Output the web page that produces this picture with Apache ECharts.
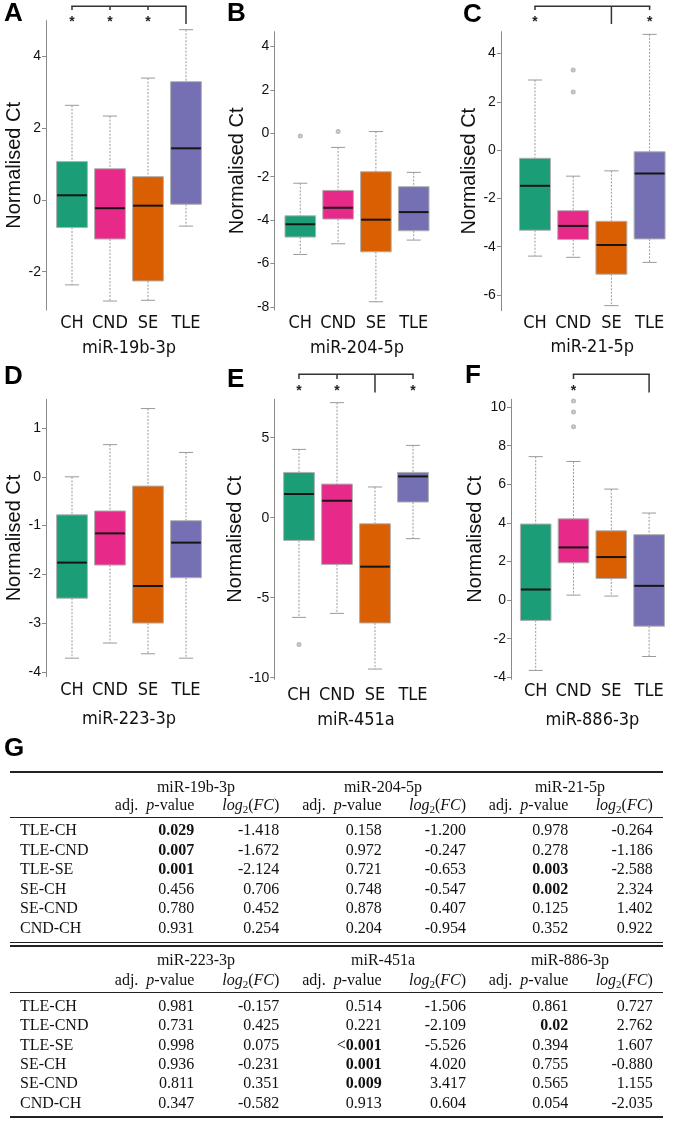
<!DOCTYPE html>
<html><head><meta charset="utf-8">
<script src="https://cdn.jsdelivr.net/npm/echarts@6/dist/echarts.min.js"></script>
<style>
html,body{margin:0;padding:0;background:#fff;}
#chart{position:absolute;left:0;top:0;width:675px;height:1127px;}
#tbl{position:absolute;left:0;top:0;width:675px;height:1127px;pointer-events:none;font-family:'Liberation Serif','Times New Roman',serif;font-size:16px;color:#111;}
.t{position:absolute;white-space:nowrap;line-height:20px;height:20px;}
.rule{position:absolute;left:10px;width:653px;background:#222;}
b{font-weight:bold;}
</style></head><body>
<div id="chart"></div><div id="tbl"></div>
<script>
// ---------------- DATA ----------------
const groups = ['CH', 'CND', 'SE', 'TLE'];
const groupColors = ['#1B9E77', '#E7298A', '#D95F02', '#7570B3'];
const mirnas = ['miR-19b-3p', 'miR-204-5p', 'miR-21-5p', 'miR-223-3p', 'miR-451a', 'miR-886-3p'];
const panelLetters = ['A', 'B', 'C', 'D', 'E', 'F'];

// box stats per group: [lower whisker, Q1, median, Q3, upper whisker]
const box19b = [[-2.37, -0.77, 0.13, 1.07, 2.64], [-2.82, -1.09, -0.23, 0.87, 2.34], [-2.80, -2.26, -0.16, 0.65, 3.40], [-0.73, -0.12, 1.44, 3.30, 4.75]];
const box204 = [[-5.58, -4.78, -4.19, -3.80, -2.30], [-5.09, -3.95, -3.43, -2.63, -0.65], [-7.76, -5.46, -3.98, -1.77, 0.08], [-4.92, -4.49, -3.63, -2.46, -1.80]];
const box21 = [[-4.39, -3.32, -1.48, -0.34, 2.90], [-4.44, -3.70, -3.14, -2.51, -1.08], [-6.44, -5.14, -3.93, -2.95, -0.86], [-4.65, -3.68, -0.97, -0.07, 4.79]];
const box223 = [[-3.72, -2.49, -1.76, -0.78, 0.00], [-3.41, -1.81, -1.16, -0.70, 0.66], [-3.63, -3.00, -2.24, -0.19, 1.40], [-3.72, -2.07, -1.35, -0.90, 0.50]];
const box451 = [[-6.23, -1.42, 1.48, 2.83, 4.27], [-5.98, -2.92, 1.06, 2.10, 7.19], [-9.46, -6.58, -3.06, -0.38, 1.92], [-1.31, 0.98, 2.58, 2.83, 4.52]];
const box886 = [[-3.64, -1.05, 0.55, 3.94, 7.43], [0.26, 1.93, 2.73, 4.21, 7.18], [0.21, 1.12, 2.23, 3.59, 5.75], [-2.92, -1.35, 0.74, 3.39, 4.51]];
const boxStats = [box19b, box204, box21, box223, box451, box886];

// outliers: [group index, value]
const out19b = [];
const out204 = [[0, -0.12], [1, 0.08]];
const out21 = [[1, 3.31], [1, 2.40]];
const out223 = [];
const out451 = [[0, -7.92]];
const out886 = [[1, 10.31], [1, 9.74], [1, 8.98]];
const outliers = [out19b, out204, out21, out223, out451, out886];

// y tick labels
const ticks19b = [-2, 0, 2, 4];
const ticks204 = [-8, -6, -4, -2, 0, 2, 4];
const ticks21 = [-6, -4, -2, 0, 2, 4];
const ticks223 = [-4, -3, -2, -1, 0, 1];
const ticks451 = [-10, -5, 0, 5];
const ticks886 = [-4, -2, 0, 2, 4, 6, 8, 10];
const yTicks = [ticks19b, ticks204, ticks21, ticks223, ticks451, ticks886];

// significance brackets (group indices)
const sigBrackets = [
  { panel: 0, span: [0, 3], stars: [0, 1, 2], drop: 3 },
  { panel: 2, span: [0, 3], stars: [0, 3], drop: 2 },
  { panel: 4, span: [0, 3], stars: [0, 1, 3], drop: 2 },
  { panel: 5, span: [1, 3], stars: [1], drop: 3 }
];

// table G
const comparisons = ['TLE-CH', 'TLE-CND', 'TLE-SE', 'SE-CH', 'SE-CND', 'CND-CH'];
const p19b = ['0.029', '0.007', '0.001', '0.456', '0.780', '0.931'];
const fc19b = ['-1.418', '-1.672', '-2.124', '0.706', '0.452', '0.254'];
const p204 = ['0.158', '0.972', '0.721', '0.748', '0.878', '0.204'];
const fc204 = ['-1.200', '-0.247', '-0.653', '-0.547', '0.407', '-0.954'];
const p21 = ['0.978', '0.278', '0.003', '0.002', '0.125', '0.352'];
const fc21 = ['-0.264', '-1.186', '-2.588', '2.324', '1.402', '0.922'];
const p223 = ['0.981', '0.731', '0.998', '0.936', '0.811', '0.347'];
const fc223 = ['-0.157', '0.425', '0.075', '-0.231', '0.351', '-0.582'];
const p451 = ['0.514', '0.221', '<0.001', '0.001', '0.009', '0.913'];
const fc451 = ['-1.506', '-2.109', '-5.526', '4.020', '3.417', '0.604'];
const p886 = ['0.861', '0.02', '0.394', '0.755', '0.565', '0.054'];
const fc886 = ['0.727', '2.762', '1.607', '-0.880', '1.155', '-2.035'];
const pvals = [p19b, p204, p21, p223, p451, p886];
const fcs = [fc19b, fc204, fc21, fc223, fc451, fc886];

// ---------------- LAYOUT ----------------
const layout = [
  { left: 53, width: 152, top: 20.7, height: 289.3, min: -3.07, max: 5.0, off: 7, lm: 4, ng: 29, yng: 22 },
  { left: 281.4, width: 151.2, top: 31.7, height: 278.3, min: -8.14, max: 4.68, off: 7, lm: 4, ng: 29, yng: 27 },
  { left: 515.9, width: 152.8, top: 31.7, height: 279, min: -6.65, max: 4.9, off: 15, lm: 4, ng: 28, yng: 16 },
  { left: 53, width: 152, top: 399.3, height: 277.4, min: -4.1, max: 1.59, off: 7, lm: 4.5, ng: 34, yng: 22 },
  { left: 280, width: 152, top: 399.3, height: 280, min: -10.1, max: 7.4, off: 5.7, lm: 7, ng: 32, yng: 27 },
  { left: 516.8, width: 151.2, top: 399.3, height: 280, min: -4.1, max: 10.4, off: 5.8, lm: 3.5, ng: 32, yng: 26 }
];
const SANS = "'Liberation Sans', Arial, sans-serif";
const NARROW = "'Liberation Sans Narrow', 'DejaVu Sans Condensed', 'Open Sans', sans-serif";

const chart = echarts.init(document.getElementById('chart'), null, { renderer: 'canvas' });

function renderBox(params, api) {
  const cat = api.value(0);
  const lo = api.coord([cat, api.value(1)]);
  const q1 = api.coord([cat, api.value(2)]);
  const md = api.coord([cat, api.value(3)]);
  const q3 = api.coord([cat, api.value(4)]);
  const hi = api.coord([cat, api.value(5)]);
  const band = api.size([1, 0])[0];
  const bw = band * 0.81, cw = bw * 0.46, x = lo[0];
  const wStyle = { stroke: '#9a9a9a', lineWidth: 1, lineDash: [2, 1.5] };
  const cStyle = { stroke: '#9a9a9a', lineWidth: 1 };
  return {
    type: 'group', children: [
      { type: 'line', shape: { x1: x, y1: hi[1], x2: x, y2: q3[1] }, style: wStyle },
      { type: 'line', shape: { x1: x, y1: q1[1], x2: x, y2: lo[1] }, style: wStyle },
      { type: 'line', shape: { x1: x - cw / 2, y1: hi[1], x2: x + cw / 2, y2: hi[1] }, style: cStyle },
      { type: 'line', shape: { x1: x - cw / 2, y1: lo[1], x2: x + cw / 2, y2: lo[1] }, style: cStyle },
      { type: 'rect', shape: { x: x - bw / 2, y: q3[1], width: bw, height: q1[1] - q3[1] }, style: { fill: groupColors[cat], stroke: '#b0b0b0', lineWidth: 1 } },
      { type: 'line', shape: { x1: x - bw / 2 + 0.5, y1: md[1], x2: x + bw / 2 - 0.5, y2: md[1] }, style: { stroke: '#151515', lineWidth: 2 } }
    ]
  };
}

const grids = [], xAxes = [], yAxes = [], series = [];
layout.forEach((L, i) => {
  grids.push({ left: L.left, width: L.width, top: L.top, height: L.height, containLabel: false });
  xAxes.push({
    type: 'category', gridIndex: i, data: groups, boundaryGap: true,
    axisLine: { show: false }, axisTick: { show: false }, splitLine: { show: false },
    axisLabel: { color: '#111', fontSize: 18, fontFamily: NARROW, margin: L.lm, interval: 0 },
    name: mirnas[i], nameLocation: 'middle', nameGap: L.ng,
    nameTextStyle: { color: '#111', fontSize: 18, fontFamily: NARROW }
  });
  yAxes.push({
    type: 'value', gridIndex: i, min: L.min, max: L.max, offset: L.off,
    axisLine: { show: true, lineStyle: { color: '#8a8a8a', width: 1 } },
    axisTick: { show: true, length: 4, lineStyle: { color: '#8a8a8a' }, customValues: yTicks[i] },
    axisLabel: { color: '#111', fontSize: 14, fontFamily: SANS, margin: 5, customValues: yTicks[i] },
    splitLine: { show: false },
    name: 'Normalised Ct', nameLocation: 'middle', nameRotate: 90, nameGap: L.yng,
    nameTextStyle: { color: '#111', fontSize: 20, fontFamily: SANS }
  });
  series.push({
    type: 'custom', xAxisIndex: i, yAxisIndex: i, renderItem: renderBox,
    encode: { x: 0, y: [1, 2, 3, 4, 5] },
    data: boxStats[i].map((s, g) => [g].concat(s)), silent: true, animation: false
  });
  series.push({
    type: 'scatter', xAxisIndex: i, yAxisIndex: i, symbol: 'emptyCircle', symbolSize: 3,
    itemStyle: { color: '#aaa', borderColor: '#aaa', borderWidth: 1 },
    data: outliers[i], silent: true, animation: false
  });
});

chart.setOption({ animation: false, grid: grids, xAxis: xAxes, yAxis: yAxes, series: series });

// graphics: panel letters + significance brackets
const letterPos = [[4, 15], [227, 15], [463, 16], [4, 378], [227, 381], [465, 377], [4, 750]];
const graphics = [];
panelLetters.concat(['G']).forEach((t, i) => {
  graphics.push({ type: 'text', left: letterPos[i][0], top: letterPos[i][1] - 14, silent: true,
    style: { text: t, fill: '#000', font: "bold 26px " + SANS } });
});
const rowY = [{ line: 6.3, shortEnd: 10, longEnd: 24, star: 22 }, { line: 374.3, shortEnd: 379, longEnd: 392.5, star: 391 }];
sigBrackets.forEach(b => {
  const R = rowY[b.panel < 3 ? 0 : 1];
  const px = g => chart.convertToPixel({ xAxisIndex: b.panel }, g);
  const x1 = px(b.span[0]), x2 = px(b.span[1]);
  const st = { stroke: '#333', lineWidth: 1.5 };
  graphics.push({ type: 'line', silent: true, shape: { x1: x1 - 0.75, y1: R.line, x2: x2 + 0.75, y2: R.line }, style: st });
  b.stars.forEach(g => {
    const x = px(g);
    graphics.push({ type: 'line', silent: true, shape: { x1: x, y1: R.line, x2: x, y2: R.shortEnd }, style: st });
    graphics.push({ type: 'text', silent: true, x: x, y: R.star, style: { text: '*', fill: '#222', font: "bold 14px " + SANS, textAlign: 'center', textVerticalAlign: 'middle' } });
  });
  const xd = px(b.drop);
  graphics.push({ type: 'line', silent: true, shape: { x1: xd, y1: R.line, x2: xd, y2: R.longEnd }, style: st });
});
chart.setOption({ graphic: graphics });

// ---------------- TABLE G ----------------
const tbl = document.getElementById('tbl');
const pRight = [194.3, 381.7, 568.3], fcRight = [279.3, 466, 652.7], geneCenter = [196, 383, 570];
const blocks = [
  { genes: [0, 1, 2], geneY: 786.7, headY: 805, rowY0: 830, step: 19.55 },
  { genes: [3, 4, 5], geneY: 960, headY: 980, rowY0: 1006, step: 19.35 }
];
function put(html, x, y, align) {
  const d = document.createElement('div');
  d.className = 't';
  d.innerHTML = html;
  d.style.top = (y - 10) + 'px';
  if (align === 'right') d.style.right = (675 - x) + 'px';
  else if (align === 'center') { d.style.left = (x - 200) + 'px'; d.style.width = '400px'; d.style.textAlign = 'center'; }
  else d.style.left = x + 'px';
  tbl.appendChild(d);
}
function rule(y, h) {
  const d = document.createElement('div');
  d.className = 'rule'; d.style.top = (y - h / 2) + 'px'; d.style.height = h + 'px';
  tbl.appendChild(d);
}
function fmtP(p) {
  const v = parseFloat(p.replace('<', ''));
  if (v < 0.05) {
    if (p[0] === '<') return '&lt;<b>' + p.slice(1) + '</b>';
    return '<b>' + p + '</b>';
  }
  return p;
}
blocks.forEach(B => {
  B.genes.forEach((gi, c) => {
    put(mirnas[gi], geneCenter[c], B.geneY, 'center');
    put('adj.&ensp;<i>p</i>-value', pRight[c], B.headY, 'right');
    put('<i>log</i><sub style="font-size:11px;vertical-align:-3px">2</sub>(<i>FC</i>)', fcRight[c], B.headY, 'right');
    comparisons.forEach((cmp, r) => {
      const y = B.rowY0 + r * B.step;
      put(fmtP(pvals[gi][r]), pRight[c], y, 'right');
      put(fcs[gi][r], fcRight[c], y, 'right');
    });
  });
  comparisons.forEach((cmp, r) => put(cmp, 20, B.rowY0 + r * B.step, 'left'));
});
rule(772, 2); rule(817.7, 1.2);
rule(942.4, 1.5); rule(945.8, 1.5); rule(992.7, 1.2);
rule(1116.7, 2);
</script>
</body></html>
